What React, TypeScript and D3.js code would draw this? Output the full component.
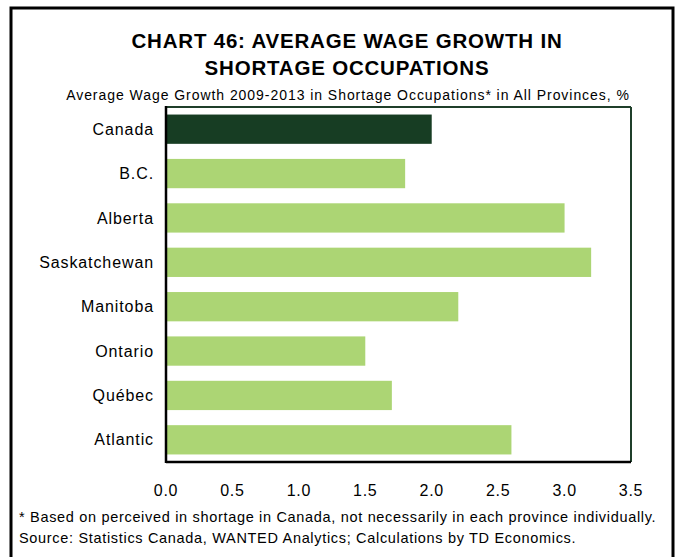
import React from "react";
import * as d3 from "d3";

const categories = ["Canada", "B.C.", "Alberta", "Saskatchewan", "Manitoba", "Ontario", "Québec", "Atlantic"];
const values = [2.0, 1.8, 3.0, 3.2, 2.2, 1.5, 1.7, 2.6];
const xTicks = [0, 0.5, 1.0, 1.5, 2.0, 2.5, 3.0, 3.5];
const titleLines = ["CHART 46: AVERAGE WAGE GROWTH IN", "SHORTAGE OCCUPATIONS"];
const subtitle = "Average Wage Growth 2009-2013 in Shortage Occupations* in All Provinces, %";
const notes = [
  "* Based on perceived in shortage in Canada, not necessarily in each province individually.",
  "Source: Statistics Canada, WANTED Analytics; Calculations by TD Economics.",
];

export default function App() {
  const W = 678, H = 557;
  const left = 166, right = 631, top = 107, bottom = 462;
  const x = d3.scaleLinear().domain([0, 3.5]).range([left, right]);
  const y = d3.scaleBand<string>().domain(categories).range([top, bottom]).paddingInner(0.34).paddingOuter(0.17);
  const font = "'Liberation Sans', Arial, sans-serif";
  return (
    <svg width={W} height={H} style={{ position: "absolute", left: 0, top: 0 }} fontFamily={font}>
      <rect x={0} y={0} width={W} height={H} fill="#fff" />
      <rect x={11} y={8} width={662} height={560} fill="none" stroke="#000" strokeWidth={3} />
      {titleLines.map((t, i) => (
        <text key={t} x={347} y={48 + i * 27} textAnchor="middle" fontWeight="bold" fontSize={20.5} letterSpacing={0.8} fill="#000">{t}</text>
      ))}
      <text x={348} y={100} textAnchor="middle" fontSize={14} letterSpacing={0.95} fill="#000">{subtitle}</text>
      {categories.map((c, i) => (
        <g key={c}>
          <rect x={x(0)} y={y(c)!} width={x(values[i]) - x(0)} height={y.bandwidth()} fill={i === 0 ? "#173d23" : "#acd574"} />
          <text x={154} y={y(c)! + y.bandwidth() / 2} dy="0.35em" textAnchor="end" fontSize={16} letterSpacing={0.9} fill="#000">{c}</text>
        </g>
      ))}
      <line x1={left} y1={top} x2={right} y2={top} stroke="#1f3f2a" strokeWidth={2} />
      <line x1={right} y1={top} x2={right} y2={bottom} stroke="#1f3f2a" strokeWidth={2} />
      <line x1={left} y1={bottom} x2={right} y2={bottom} stroke="#000" strokeWidth={2.5} />
      <line x1={left} y1={top - 1} x2={left} y2={bottom + 1} stroke="#000" strokeWidth={2.5} />
      {xTicks.map((t) => (
        <text key={t} x={x(t)} y={496} textAnchor="middle" fontSize={16} letterSpacing={0.7} fill="#000">{t.toFixed(1)}</text>
      ))}
      {notes.map((n, i) => (
        <text key={n} x={19} y={522 + i * 21} fontSize={14.5} letterSpacing={0.68} fill="#000">{n}</text>
      ))}
    </svg>
  );
}
